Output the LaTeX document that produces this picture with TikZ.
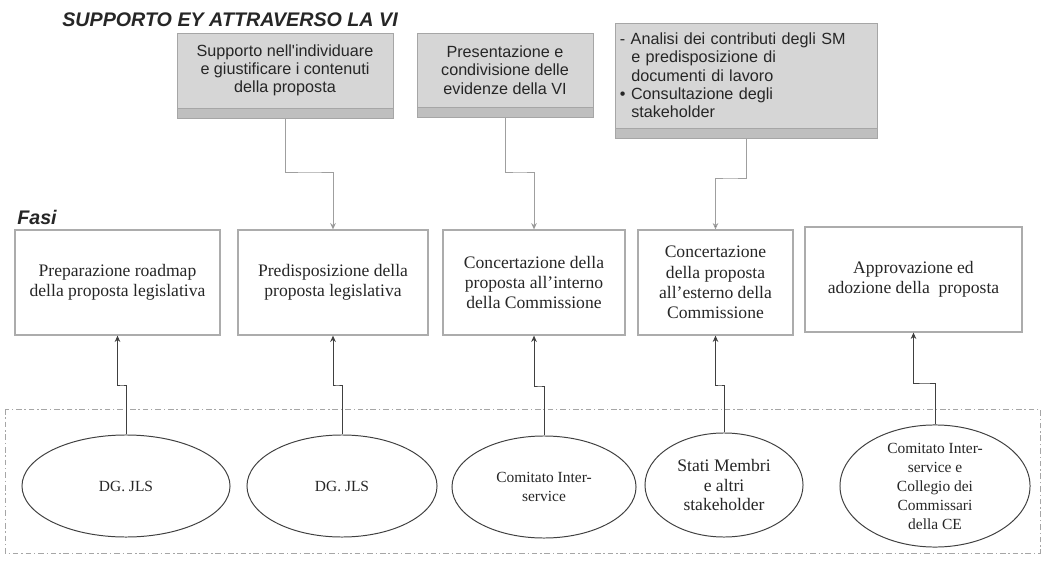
\documentclass[tikz,border=0pt]{standalone}
\usepackage{fontspec}
\setmainfont{Liberation Serif}
\newfontfamily\arialf{Liberation Sans}
\usetikzlibrary{positioning,arrows.meta,shapes.geometric}

\begin{document}
\begin{tikzpicture}[x=0.025cm, y=-0.025cm,
    titolo/.style={font=\arialf\bfseries\itshape\fontsize{14}{16}\selectfont, text=black!85, inner sep=0pt},
    supporto/.style={rectangle, draw=gray!70, fill=gray!32, line width=0.6pt, inner sep=2pt,
        font=\arialf\fontsize{11.5}{13}\selectfont, text=black!85},
    banda/.style={rectangle, draw=gray!70, fill=gray!50, line width=0.6pt, minimum height=0.25cm, inner sep=0pt},
    fase/.style={rectangle, draw=gray!65, line width=0.9pt, align=center,
        font=\fontsize{12.5}{14.5}\selectfont, text=black!85},
    attore/.style={ellipse, draw=black!75, line width=0.7pt, align=center, inner sep=0pt,
        font=\fontsize{11}{13.5}\selectfont, text=black!85},
    link/.style={draw=black!75, line width=0.6pt, -{Stealth[length=4.5pt,width=4pt]}},
    linkgrigio/.style={draw=gray!75, line width=0.6pt, -{Stealth[length=4.5pt,width=4pt,fill=black!80]}}
  ]
  \useasboundingbox (0,0) rectangle (1043,563);

  % titoli
  \node[titolo, anchor=west] (tit) at (62,20) {SUPPORTO EY ATTRAVERSO LA VI};
  \node[titolo, anchor=west] (fasi) at (17,217) {Fasi};

  % supporto EY
  \node[supporto, align=center, minimum width=5.4cm, minimum height=1.875cm] (supA) at (285,70.5)
    {Supporto nell'individuare\\e giustificare i contenuti\\della proposta};
  \node[banda, minimum width=5.4cm, below=0pt of supA] (supAb) {};
  \node[supporto, align=center, minimum width=4.4cm, minimum height=1.85cm] (supB) at (505,70)
    {Presentazione e\\condivisione delle\\evidenze della VI};
  \node[banda, minimum width=4.4cm, below=0pt of supB] (supBb) {};
  \node[supporto, align=left, text width=6.3cm, minimum width=6.55cm, minimum height=2.625cm] (supC) at (746,75.5)
    {- Analisi dei contributi degli SM\\
     \hspace*{0.7em}e predisposizione di\\
     \hspace*{0.7em}documenti di lavoro\\
     \textbullet\ Consultazione degli\\
     \hspace*{0.7em}stakeholder\\[4pt]};
  \node[banda, minimum width=6.55cm, below=0pt of supC] (supCb) {};

  % fasi
  \node[fase, minimum width=5.125cm, minimum height=2.625cm] (fase1) at (117.5,282.5)
    {Preparazione roadmap\\della proposta legislativa};
  \node[fase, minimum width=4.75cm, minimum height=2.625cm] (fase2) at (333,282.5)
    {Predisposizione della\\proposta legislativa};
  \node[fase, minimum width=4.55cm, minimum height=2.625cm] (fase3) at (534,282.5)
    {Concertazione della\\proposta all'interno\\della Commissione};
  \node[fase, minimum width=3.875cm, minimum height=2.625cm] (fase4) at (715.5,282.5)
    {Concertazione\\della proposta\\all'esterno della\\Commissione};
  \node[fase, minimum width=5.425cm, minimum height=2.625cm] (fase5) at (913.5,279.5)
    {Approvazione ed\\adozione della\ \ proposta};

  % attori
  \draw[gray!70, line width=0.7pt, dash pattern=on 4pt off 2pt on 1pt off 2pt] (5,409) rectangle (1040,553);
  \node[attore, minimum width=5.2cm, minimum height=2.55cm] (att1) at (126,486) {DG. JLS};
  \node[attore, minimum width=4.75cm, minimum height=2.55cm] (att2) at (342,486) {DG. JLS};
  \node[attore, minimum width=4.6cm, minimum height=2.55cm] (att3) at (544,487) {Comitato Inter-\\service};
  \node[attore, minimum width=3.95cm, minimum height=2.6cm, font=\fontsize{12.5}{14}\selectfont] (att4) at (724,485)
    {Stati Membri\\e altri\\stakeholder};
  \node[attore, minimum width=4.75cm, minimum height=3.05cm] (att5) at (935,486)
    {Comitato Inter-\\service e\\Collegio dei\\Commissari\\della CE};

  % collegamenti supporto -> fasi
  \coordinate (kA) at (310,172);
  \coordinate (kB) at (520,172);
  \coordinate (kC) at (730,178);
  \draw[linkgrigio] (supAb.south) |- (kA) -| (fase2.north);
  \draw[linkgrigio] (supBb.south) |- (kB) -| (fase3.north);
  \draw[linkgrigio] (supCb.south) |- (kC) -| (fase4.north);

  % collegamenti attori -> fasi
  \coordinate (k1) at (122,385);
  \coordinate (k2) at (337,385);
  \coordinate (k3) at (540,386);
  \coordinate (k4) at (720,385);
  \coordinate (k5) at (925,383);
  \draw[link] (att1.north) |- (k1) -| (fase1.south);
  \draw[link] (att2.north) |- (k2) -| (fase2.south);
  \draw[link] (att3.north) |- (k3) -| (fase3.south);
  \draw[link] (att4.north) |- (k4) -| (fase4.south);
  \draw[link] (att5.north) |- (k5) -| (fase5.south);
\end{tikzpicture}
\end{document}
